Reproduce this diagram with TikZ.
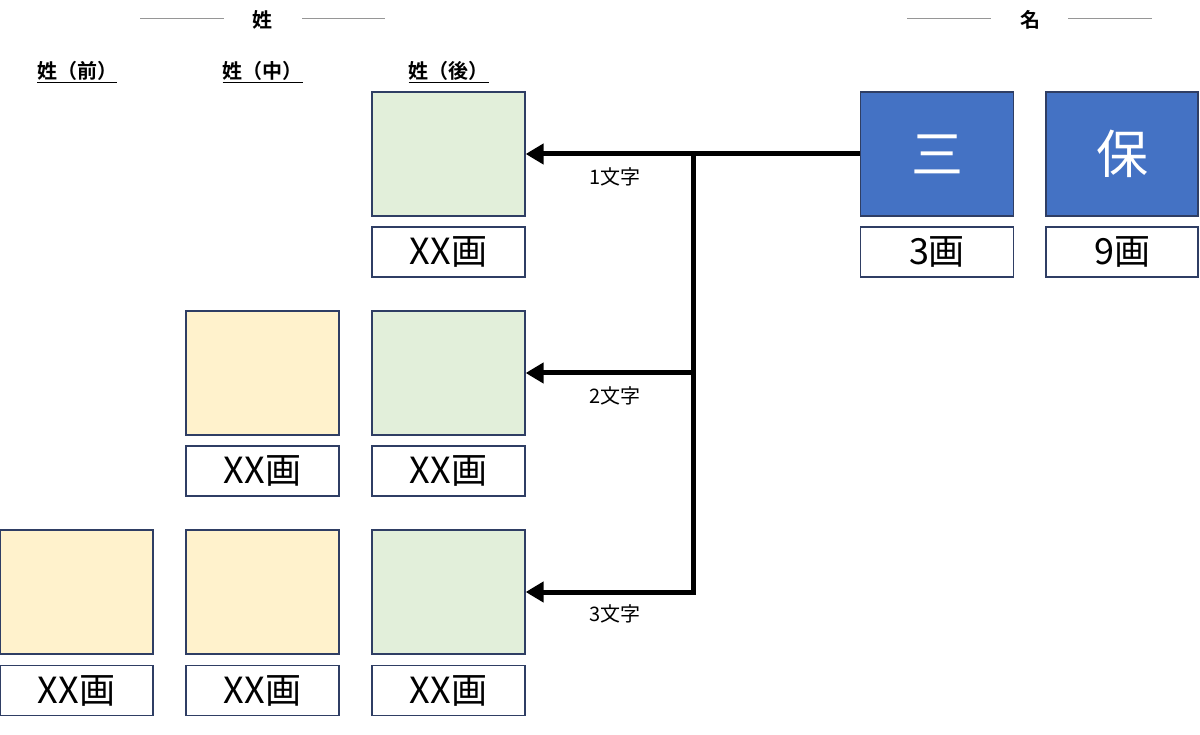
\documentclass[tikz,border=0pt]{standalone}
\usepackage{fontspec}
\setmainfont{Noto Sans CJK JP}[BoldFont={Noto Sans CJK JP Bold}]
\usetikzlibrary{arrows.meta, positioning}
\definecolor{kanjiblue}{RGB}{68, 114, 196}
\definecolor{edgeblue}{RGB}{47, 62, 100}
\definecolor{seigreen}{RGB}{226, 239, 218}
\definecolor{seiyellow}{RGB}{255, 242, 204}
\definecolor{headgray}{RGB}{150, 150, 150}

\begin{document}
\begin{tikzpicture}[x=1pt, y=-1pt,
  charbox/.style={draw=edgeblue, line width=1.3pt, minimum width=153pt, minimum height=124pt, inner sep=0pt},
  strokebox/.style={draw=edgeblue, line width=1.3pt, fill=white, minimum width=153pt, minimum height=50pt, inner sep=0pt, font=\fontsize{36}{40}\selectfont},
  headline/.style={headgray, line width=1pt},
  colhead/.style={font=\fontsize{20}{24}\selectfont\bfseries},
  flow/.style={line width=5pt, -{Triangle[length=18pt, width=20pt]}}]
  \useasboundingbox (0,0) rectangle (1200,735);

  % Headings
  \node[colhead] (hsei) at (262, 20) {姓};
  \draw[headline] (140, 19) -- (224, 19);
  \draw[headline] (302, 19) -- (385, 19);
  \node[colhead] (hmei) at (1030, 20) {名};
  \draw[headline] (907, 19) -- (991, 19);
  \draw[headline] (1068, 19) -- (1152, 19);

  \node[colhead] (hmae) at (77.5, 72) {\underline{姓（前）}};
  \node[colhead] (hnaka) at (262.5, 72) {\underline{姓（中）}};
  \node[colhead] (hato) at (448.5, 72) {\underline{姓（後）}};

  % Family name: 1 character
  \node[charbox, fill=seigreen] (g1) at (448.5, 154) {};
  \node[strokebox] (g1n) at (448.5, 252) {XX画};

  % Family name: 2 characters
  \node[charbox, fill=seiyellow] (y2) at (262.5, 373) {};
  \node[strokebox] (y2n) at (262.5, 471) {XX画};
  \node[charbox, fill=seigreen] (g2) at (448.5, 373) {};
  \node[strokebox] (g2n) at (448.5, 471) {XX画};

  % Family name: 3 characters
  \node[charbox, fill=seiyellow] (m3) at (76.5, 592) {};
  \node[strokebox] (m3n) at (76.5, 690.5) {XX画};
  \node[charbox, fill=seiyellow] (y3) at (262.5, 592) {};
  \node[strokebox] (y3n) at (262.5, 690.5) {XX画};
  \node[charbox, fill=seigreen] (g3) at (448.5, 592) {};
  \node[strokebox] (g3n) at (448.5, 690.5) {XX画};

  % Given name
  \node[charbox, fill=kanjiblue, text=white, font=\fontsize{52}{58}\selectfont] (san) at (937, 154) {三};
  \node[strokebox] (sann) at (937, 252) {3画};
  \node[charbox, fill=kanjiblue, text=white, font=\fontsize{52}{58}\selectfont, minimum width=152pt] (ho) at (1122, 154) {保};
  \node[strokebox, minimum width=152pt] (hon) at (1122, 252) {9画};

  % Arrows
  \coordinate (jn) at (693, 154);
  \draw[flow] (san.west) -- (g1.east);
  \draw[line width=5pt] (jn) -- (jn |- g3.east);
  \draw[flow] (jn |- g2.east) -- (g2.east);
  \draw[flow] ([xshift=2.5pt]jn |- g3.east) -- (g3.east);
  \node[font=\fontsize{20}{24}\selectfont] (l1) at (615, 177) {1文字};
  \node[font=\fontsize{20}{24}\selectfont] (l2) at (615, 396) {2文字};
  \node[font=\fontsize{20}{24}\selectfont] (l3) at (615, 614) {3文字};
\end{tikzpicture}
\end{document}
